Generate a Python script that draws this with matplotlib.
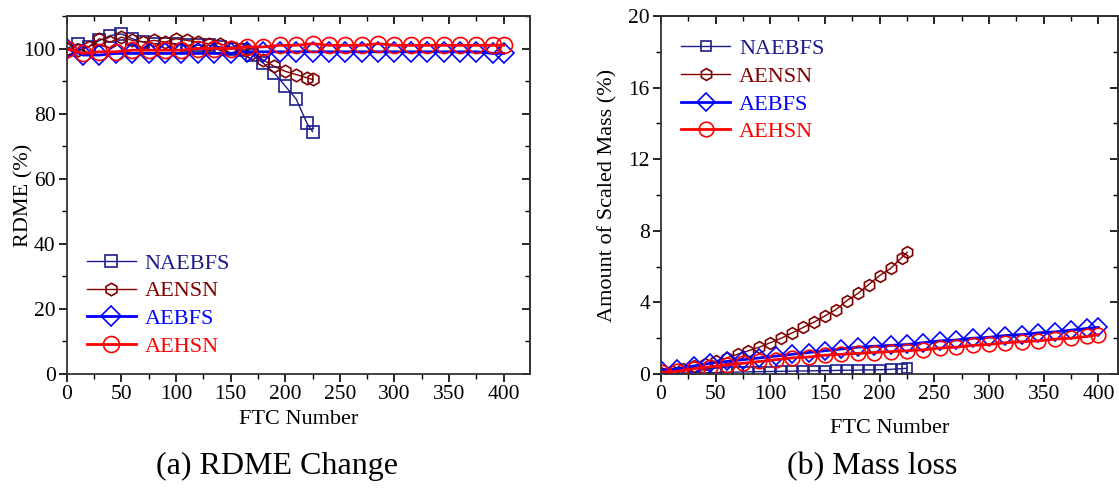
import matplotlib
matplotlib.use("Agg")
import matplotlib.pyplot as plt
from matplotlib.ticker import MultipleLocator

plt.rcParams['font.family'] = ['Liberation Serif', 'DejaVu Serif']

# FTC cycle numbers
x_a = [0, 10, 20, 30, 40, 50, 60, 70, 80, 90, 100, 110, 120, 130, 140, 150,
       160, 170, 180, 190, 200, 210, 220, 225]
x_b = [0, 15, 30, 45, 60, 75, 90, 105, 120, 135, 150, 165, 180, 195, 210, 225,
       240, 255, 270, 285, 300, 315, 330, 345, 360, 375, 390, 400]

# (a) RDME (%)
rdme_naebfs = [100, 101.5, 100.5, 102.5, 104, 104.5, 103, 102, 101.5, 101.5, 101.5, 101,
               101, 101, 100.5, 100, 99.5, 98, 95.5, 92.5, 88.5, 84.5, 77, 74.5]
rdme_aensn = [100, 99.5, 100.5, 103, 102, 103.5, 102.5, 102, 102.5, 102, 103, 102.5,
              102, 101.5, 101.5, 100.5, 100, 98.5, 96.5, 94.5, 93, 92, 91, 90.5]
rdme_aebfs = [100, 98, 98, 98.5, 98.5, 98.5, 98.5, 98.5, 98.5, 98.5, 98.5, 99, 99, 99,
              99, 99, 99, 99, 99, 99, 99, 99, 99, 99, 99, 99, 98.5, 98.5]
rdme_aehsn = [100, 98.5, 99, 99, 99.5, 99.5, 99.5, 99.5, 100, 100, 100, 100.5, 100.5, 101,
              101, 101.5, 101, 101, 101, 101.5, 101, 101, 101, 101, 101, 101, 101, 101]

# (b) mass loss (%)
mass_naebfs = [0, 0.02, 0.04, 0.05, 0.07, 0.08, 0.1, 0.11, 0.12, 0.13, 0.14, 0.15,
               0.16, 0.17, 0.18, 0.19, 0.2, 0.21, 0.22, 0.23, 0.24, 0.26, 0.3, 0.32]
mass_aensn = [0.05, 0.15, 0.3, 0.45, 0.55, 0.7, 0.9, 1.1, 1.3, 1.5, 1.75, 2.0,
              2.3, 2.6, 2.9, 3.25, 3.6, 4.1, 4.5, 5.0, 5.5, 5.9, 6.5, 6.8]
mass_aebfs = [0.2, 0.3, 0.45, 0.6, 0.7, 0.8, 0.9, 1.0, 1.1, 1.2, 1.3, 1.4, 1.5, 1.55,
              1.6, 1.65, 1.75, 1.85, 1.9, 2.0, 2.05, 2.15, 2.2, 2.3, 2.35, 2.45, 2.55, 2.6]
mass_aehsn = [0.1, 0.15, 0.3, 0.4, 0.5, 0.6, 0.7, 0.8, 0.9, 0.95, 1.05, 1.1, 1.15, 1.2,
              1.25, 1.3, 1.35, 1.45, 1.5, 1.6, 1.65, 1.75, 1.8, 1.85, 1.95, 2.0, 2.1, 2.2]

names = ["NAEBFS", "AENSN", "AEBFS", "AEHSN"]
colors = ["#1c1c8c", "#800000", "#0000ff", "#ff0000"]
markers = ["s", "h", "D", "o"]
widths = [1.0, 1.0, 2.0, 2.0]

fig = plt.figure(figsize=(11.19, 4.94), dpi=100)
ax1 = fig.add_axes([0.0596, 0.2429, 0.4140, 0.7247])
ax2 = fig.add_axes([0.5907, 0.2429, 0.4085, 0.7247])


def draw(ax, ys, xs, sizes):
    for y, x, c, m, lw, ms, n in zip(ys, xs, colors, markers, widths, sizes, names):
        ax.plot(x, y, color=c, lw=lw, marker=m, ms=ms, mfc="none", mec=c,
                mew=1.2, label=n)


def style(ax, xlim, ylim, ymaj, ymin):
    ax.set_xlim(*xlim)
    ax.set_ylim(*ylim)
    ax.xaxis.set_major_locator(MultipleLocator(50))
    ax.xaxis.set_minor_locator(MultipleLocator(25))
    ax.yaxis.set_major_locator(MultipleLocator(ymaj))
    ax.yaxis.set_minor_locator(MultipleLocator(ymin))
    ax.tick_params(which="major", direction="out", length=6, width=1.2,
                   labelsize=15.5, pad=2)
    ax.tick_params(which="minor", direction="out", length=3.5, width=1.0)
    for s in ax.spines.values():
        s.set_linewidth(1.3)
        s.set_color("#333333")
    top = ax.secondary_xaxis("top")
    top.xaxis.set_major_locator(MultipleLocator(50))
    top.xaxis.set_minor_locator(MultipleLocator(25))
    top.tick_params(which="major", direction="in", length=6, width=1.2, labeltop=False)
    top.tick_params(which="minor", direction="in", length=3.5, width=1.0)
    right = ax.secondary_yaxis("right")
    right.yaxis.set_major_locator(MultipleLocator(ymaj))
    right.yaxis.set_minor_locator(MultipleLocator(ymin))
    right.tick_params(which="major", direction="in", length=6, width=1.2, labelright=False)
    right.tick_params(which="minor", direction="in", length=3.5, width=1.0)
    for sec in (top, right):
        for s in sec.spines.values():
            s.set_linewidth(1.3)
            s.set_color("#333333")


def legend(ax, loc, anchor):
    leg = ax.legend(loc=loc, bbox_to_anchor=anchor, frameon=False, fontsize=16,
                    handlelength=2.2, handletextpad=0.4, labelspacing=0.32,
                    borderaxespad=0.3)
    for t, c in zip(leg.get_texts(), colors):
        t.set_color(c)


draw(ax1, [rdme_naebfs, rdme_aensn, rdme_aebfs, rdme_aehsn], [x_a, x_a, x_b, x_b],
     [8, 9, 10.5, 11.5])
style(ax1, (0, 424), (0, 110), 20, 10)
ax1.set_xlabel("FTC Number", fontsize=16, labelpad=4)
ax1.set_ylabel("RDME (%)", fontsize=16)
ax1.yaxis.set_label_coords(-0.072, 0.5)
legend(ax1, "lower left", (0.01, 0.005))

draw(ax2, [mass_naebfs, mass_aensn, mass_aebfs, mass_aehsn], [x_a, x_a, x_b, x_b],
     [6.5, 8.5, 9.5, 10.5])
style(ax2, (0, 418), (0, 20), 4, 2)
ax2.set_xlabel("FTC Number", fontsize=16, labelpad=11)
ax2.set_ylabel("Amount of Scaled Mass (%)", fontsize=16)
ax2.yaxis.set_label_coords(-0.096, 0.5)
legend(ax2, "upper left", (0.01, 0.98))

fig.text(0.2475, 0.055, "(a) RDME Change", ha="center", va="center", fontsize=23)
fig.text(0.7795, 0.055, "(b) Mass loss", ha="center", va="center", fontsize=23)

fig.savefig("out.png", dpi=100)
